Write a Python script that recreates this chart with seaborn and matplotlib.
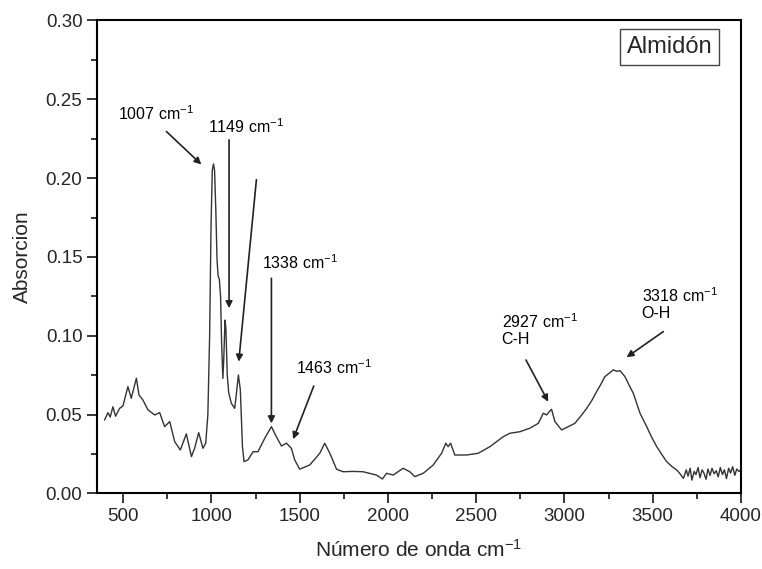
import numpy as np
import pandas as pd
import matplotlib.pyplot as plt
import seaborn as sns
from matplotlib.ticker import MultipleLocator

# Espectro FTIR del almidón
wavenumber = [
    395, 414, 427, 442, 457, 480, 499, 527, 546, 575, 590, 612, 641, 679, 707, 735,
    764, 792, 824, 858, 887, 905, 928, 952, 968, 980, 990, 998, 1005, 1012, 1018,
    1025, 1032, 1038, 1045, 1052, 1058, 1065, 1070, 1077, 1082, 1090, 1098, 1113,
    1132, 1142, 1153, 1164, 1176, 1185, 1207, 1236, 1264, 1302, 1340, 1368, 1397,
    1425, 1453, 1472, 1500, 1557, 1614, 1642, 1671, 1709, 1746, 1800, 1859, 1935,
    1969, 1992, 2030, 2086, 2124, 2152, 2200, 2256, 2304, 2328, 2341, 2355, 2379,
    2445, 2511, 2578, 2653, 2691, 2748, 2804, 2852, 2880, 2899, 2915, 2927, 2946,
    2984, 3022, 3059, 3092, 3126, 3155, 3182, 3205, 3229, 3250, 3277, 3296, 3315,
    3343, 3365, 3390, 3410, 3428, 3450, 3466, 3495, 3523, 3550, 3579, 3610, 3636,
    3655, 3674, 3690, 3700, 3712, 3722, 3735, 3745, 3757, 3768, 3780, 3790, 3802,
    3813, 3825, 3836, 3848, 3860, 3871, 3883, 3895, 3906, 3918, 3930, 3941, 3953,
    3965, 3976, 3988, 4000,
]
absorbance = [
    0.0466, 0.0513, 0.0485, 0.0550, 0.0490, 0.0540, 0.0555, 0.0678, 0.0604, 0.0731,
    0.0625, 0.0593, 0.0530, 0.0498, 0.0513, 0.0424, 0.0456, 0.0329, 0.0276, 0.0378,
    0.0234, 0.0287, 0.0386, 0.0287, 0.0319, 0.0500, 0.1000, 0.1700, 0.2050, 0.2090,
    0.2050, 0.1800, 0.1480, 0.1380, 0.1360, 0.1250, 0.0950, 0.0730, 0.0850, 0.1100,
    0.1050, 0.0750, 0.0640, 0.0572, 0.0540, 0.0636, 0.0752, 0.0657, 0.0297, 0.0202,
    0.0213, 0.0265, 0.0265, 0.0350, 0.0424, 0.0360, 0.0301, 0.0319, 0.0287, 0.0213,
    0.0154, 0.0181, 0.0255, 0.0319, 0.0255, 0.0154, 0.0138, 0.0140, 0.0138, 0.0117,
    0.0092, 0.0128, 0.0117, 0.0160, 0.0138, 0.0107, 0.0128, 0.0180, 0.0255, 0.0319,
    0.0297, 0.0319, 0.0244, 0.0244, 0.0255, 0.0297, 0.0360, 0.0382, 0.0392, 0.0414,
    0.0445, 0.0509, 0.0498, 0.0520, 0.0534, 0.0456, 0.0403, 0.0424, 0.0445, 0.0490,
    0.0540, 0.0590, 0.0646, 0.0690, 0.0741, 0.0760, 0.0784, 0.0775, 0.0779, 0.0741,
    0.0690, 0.0636, 0.0570, 0.0509, 0.0460, 0.0424, 0.0355, 0.0297, 0.0250, 0.0202,
    0.0170, 0.0149, 0.0125, 0.0096, 0.0150, 0.0110, 0.0160, 0.0085, 0.0140, 0.0120,
    0.0165, 0.0100, 0.0150, 0.0130, 0.0090, 0.0155, 0.0115, 0.0160, 0.0125, 0.0145,
    0.0105, 0.0165, 0.0120, 0.0150, 0.0095, 0.0160, 0.0130, 0.0170, 0.0115, 0.0155,
    0.0140, 0.0149,
]

# Anotaciones: texto, posición del texto, inicio y fin de la flecha
labels = ['1007 cm$^{-1}$', '1149 cm$^{-1}$', '1338 cm$^{-1}$', '1463 cm$^{-1}$',
          '2927 cm$^{-1}$\nC-H', '3318 cm$^{-1}$\nO-H']
label_x = [469, 979, 1285, 1482, 2644, 3437]
label_y = [0.235, 0.2268, 0.1405, 0.074, 0.093, 0.1094]
arrows_start = [(745, 0.2296), (1100, 0.2243), (1255, 0.199), (1340, 0.1365),
                (1580, 0.0682), (2782, 0.0847), (3560, 0.1027)]
arrows_end = [(943, 0.2087), (1100, 0.1175), (1155, 0.0836), (1340, 0.0445),
              (1463, 0.0344), (2908, 0.0582), (3352, 0.0864)]

df = pd.DataFrame({'Numero': wavenumber, 'Absorcion': absorbance})

sns.set_style('ticks')
plt.rcParams['font.family'] = ['Liberation Sans', 'DejaVu Sans']
plt.rcParams['mathtext.default'] = 'regular'

fig = plt.figure(figsize=(7.62, 5.69), dpi=100)
ax = fig.add_axes([0.1273, 0.1327, 0.8451, 0.8313])
sns.lineplot(data=df, x='Numero', y='Absorcion', color='#333333', linewidth=1.0, ax=ax)

for txt, tx, ty in zip(labels, label_x, label_y):
    ax.text(tx, ty, txt, fontsize=11.5, ha='left', va='bottom', color='black',
            linespacing=1.1)
for (x0, y0), (x1, y1) in zip(arrows_start, arrows_end):
    ax.annotate('', xy=(x1, y1), xytext=(x0, y0),
                arrowprops=dict(arrowstyle='-|>', color='#222222', lw=1.2,
                                mutation_scale=10, shrinkA=0, shrinkB=0))

ax.text(3595, 0.283, 'Almidón', fontsize=17, ha='center', va='center',
        bbox=dict(boxstyle='square,pad=0.3', facecolor='white', edgecolor='#444444', lw=1))

ax.set_xlim(352, 4000)
ax.set_ylim(0, 0.30)
ax.xaxis.set_major_locator(MultipleLocator(500))
ax.xaxis.set_minor_locator(MultipleLocator(250))
ax.yaxis.set_major_locator(MultipleLocator(0.05))
ax.yaxis.set_minor_locator(MultipleLocator(0.025))
ax.set_yticks(np.arange(0, 0.31, 0.05))
ax.set_yticklabels([f'{v:.2f}' for v in np.arange(0, 0.31, 0.05)])
ax.set_xticks(np.arange(500, 4001, 500))
ax.tick_params(which='major', direction='out', length=7, width=1.3, labelsize=13.5)
ax.tick_params(which='minor', direction='out', length=4, width=1.3)
for s in ax.spines.values():
    s.set_visible(True)
    s.set_linewidth(1.5)
    s.set_color('black')

ax.set_xlabel('Número de onda cm$^{-1}$', fontsize=15, labelpad=10)
ax.set_ylabel('Absorcion', fontsize=15, labelpad=10)

fig.savefig('out.png', dpi=100)
